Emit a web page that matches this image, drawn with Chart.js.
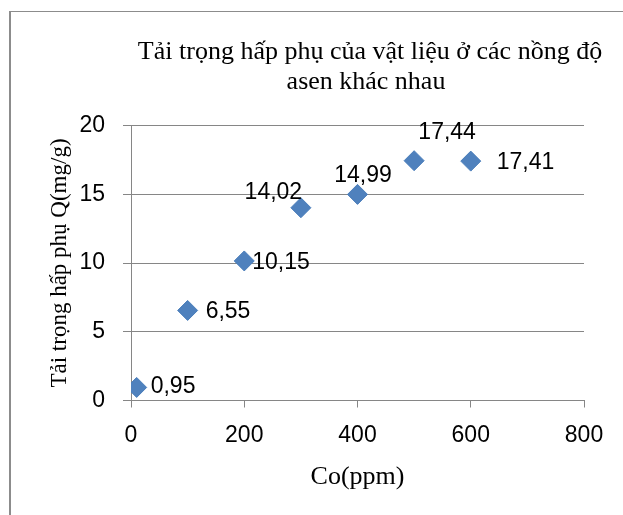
<!DOCTYPE html>
<html>
<head>
<meta charset="utf-8">
<script src="https://cdn.jsdelivr.net/npm/chart.js@4.4.0/dist/chart.umd.min.js"></script>
<style>
  html, body { margin: 0; padding: 0; background: #ffffff; }
  #wrap { position: relative; width: 623px; height: 515px; }
  canvas { display: block; }
</style>
</head>
<body>
<div id="wrap"><canvas id="c" width="623" height="515"></canvas></div>
<script>
// ---- data ----
const concentrations = [10, 100, 200, 300, 400, 500, 600];       // Co (ppm)
const capacities = [0.95, 6.55, 10.15, 14.02, 14.99, 17.44, 17.41]; // Q (mg/g)
const titleLines = ['Tải trọng hấp phụ của vật liệu ở các nồng độ', 'asen khác nhau'];
const xAxisTitle = 'Co(ppm)';
const yAxisTitle = 'Tải trọng hấp phụ Q(mg/g)';
const xTicks = [0, 200, 400, 600, 800];
const yTicks = [0, 5, 10, 15, 20];

// ---- label placement (style, relative to each marker) ----
const labelDx = [14, 18, 8, -27.5, 5.5, 33, 26];
const labelDy = [-1, 1, 2, -15, -18.5, -28, 2];
const labelAlign = ['left', 'left', 'left', 'center', 'center', 'center', 'left'];

const GRID = '#868686';
const MARK = '#4F81BD';
const SANS = "'Liberation Sans', Arial, sans-serif";
const SERIF = "'Liberation Serif', 'Times New Roman', serif";

const points = concentrations.map((x, i) => ({ x: x, y: capacities[i] }));

const framePlugin = {
  id: 'frame',
  beforeDraw(chart) {
    const ctx = chart.ctx;
    ctx.save();
    ctx.fillStyle = '#ffffff';
    ctx.fillRect(0, 0, chart.width, chart.height);
    ctx.fillStyle = '#8c8c8c';
    ctx.fillRect(9, 11, 2, chart.height - 11);
    ctx.fillRect(9, 11, chart.width - 9, 1);
    ctx.restore();
  },
  afterDraw(chart) {
    const ctx = chart.ctx;
    ctx.save();
    ctx.fillStyle = '#000000';
    ctx.font = '26px ' + SERIF;
    ctx.textAlign = 'center';
    ctx.textBaseline = 'alphabetic';
    const cx = [370, 366];
    titleLines.forEach((t, i) => ctx.fillText(t, cx[i], 59 + i * 30));
    ctx.restore();
  }
};

const labelPlugin = {
  id: 'valueLabels',
  afterDatasetsDraw(chart) {
    const ctx = chart.ctx;
    const meta = chart.getDatasetMeta(0);
    ctx.save();
    ctx.fillStyle = '#000000';
    ctx.font = '23px ' + SANS;
    ctx.textBaseline = 'middle';
    meta.data.forEach((el, i) => {
      const txt = capacities[i].toFixed(2).replace('.', ',');
      ctx.textAlign = labelAlign[i];
      ctx.fillText(txt, el.x + labelDx[i], el.y + labelDy[i]);
    });
    ctx.restore();
  }
};

new Chart(document.getElementById('c'), {
  type: 'scatter',
  data: {
    datasets: [{
      data: points,
      pointStyle: 'rectRot',
      pointRadius: 10,
      pointHoverRadius: 10,
      backgroundColor: MARK,
      borderColor: '#4a7ebb',
      borderWidth: 1
    }]
  },
  options: {
    responsive: false,
    animation: false,
    events: [],
    layout: { padding: { left: 0, top: 125.5, right: 39, bottom: 0 } },
    plugins: {
      legend: { display: false },
      tooltip: { enabled: false },
      title: { display: false }
    },
    scales: {
      x: {
        type: 'linear',
        min: xTicks[0],
        max: xTicks[xTicks.length - 1],
        afterBuildTicks(scale) { scale.ticks = xTicks.map(v => ({ value: v })); },
        afterFit(scale) { scale.height = 114.5; },
        grid: { drawOnChartArea: false, drawTicks: true, tickLength: 7, color: GRID, tickColor: GRID },
        border: { display: true, color: GRID, width: 1 },
        ticks: { color: '#000', font: { family: SANS, size: 23 }, padding: 14, maxRotation: 0 },
        title: { display: true, text: xAxisTitle, color: '#000', font: { family: SERIF, size: 26 }, padding: { top: 0, bottom: 22 } }
      },
      y: {
        type: 'linear',
        min: yTicks[0],
        max: yTicks[yTicks.length - 1],
        afterBuildTicks(scale) { scale.ticks = yTicks.map(v => ({ value: v })); },
        afterFit(scale) { scale.width = 131; },
        grid: { drawOnChartArea: true, drawTicks: true, tickLength: 8, color: GRID, tickColor: GRID },
        border: { display: true, color: GRID, width: 1 },
        ticks: { color: '#000', font: { family: SANS, size: 23 }, padding: 18 },
        title: { display: true, text: yAxisTitle, color: '#000', font: { family: SERIF, size: 23 }, padding: { top: 46, bottom: 0 } }
      }
    }
  },
  plugins: [framePlugin, labelPlugin]
});
</script>
</body>
</html>
